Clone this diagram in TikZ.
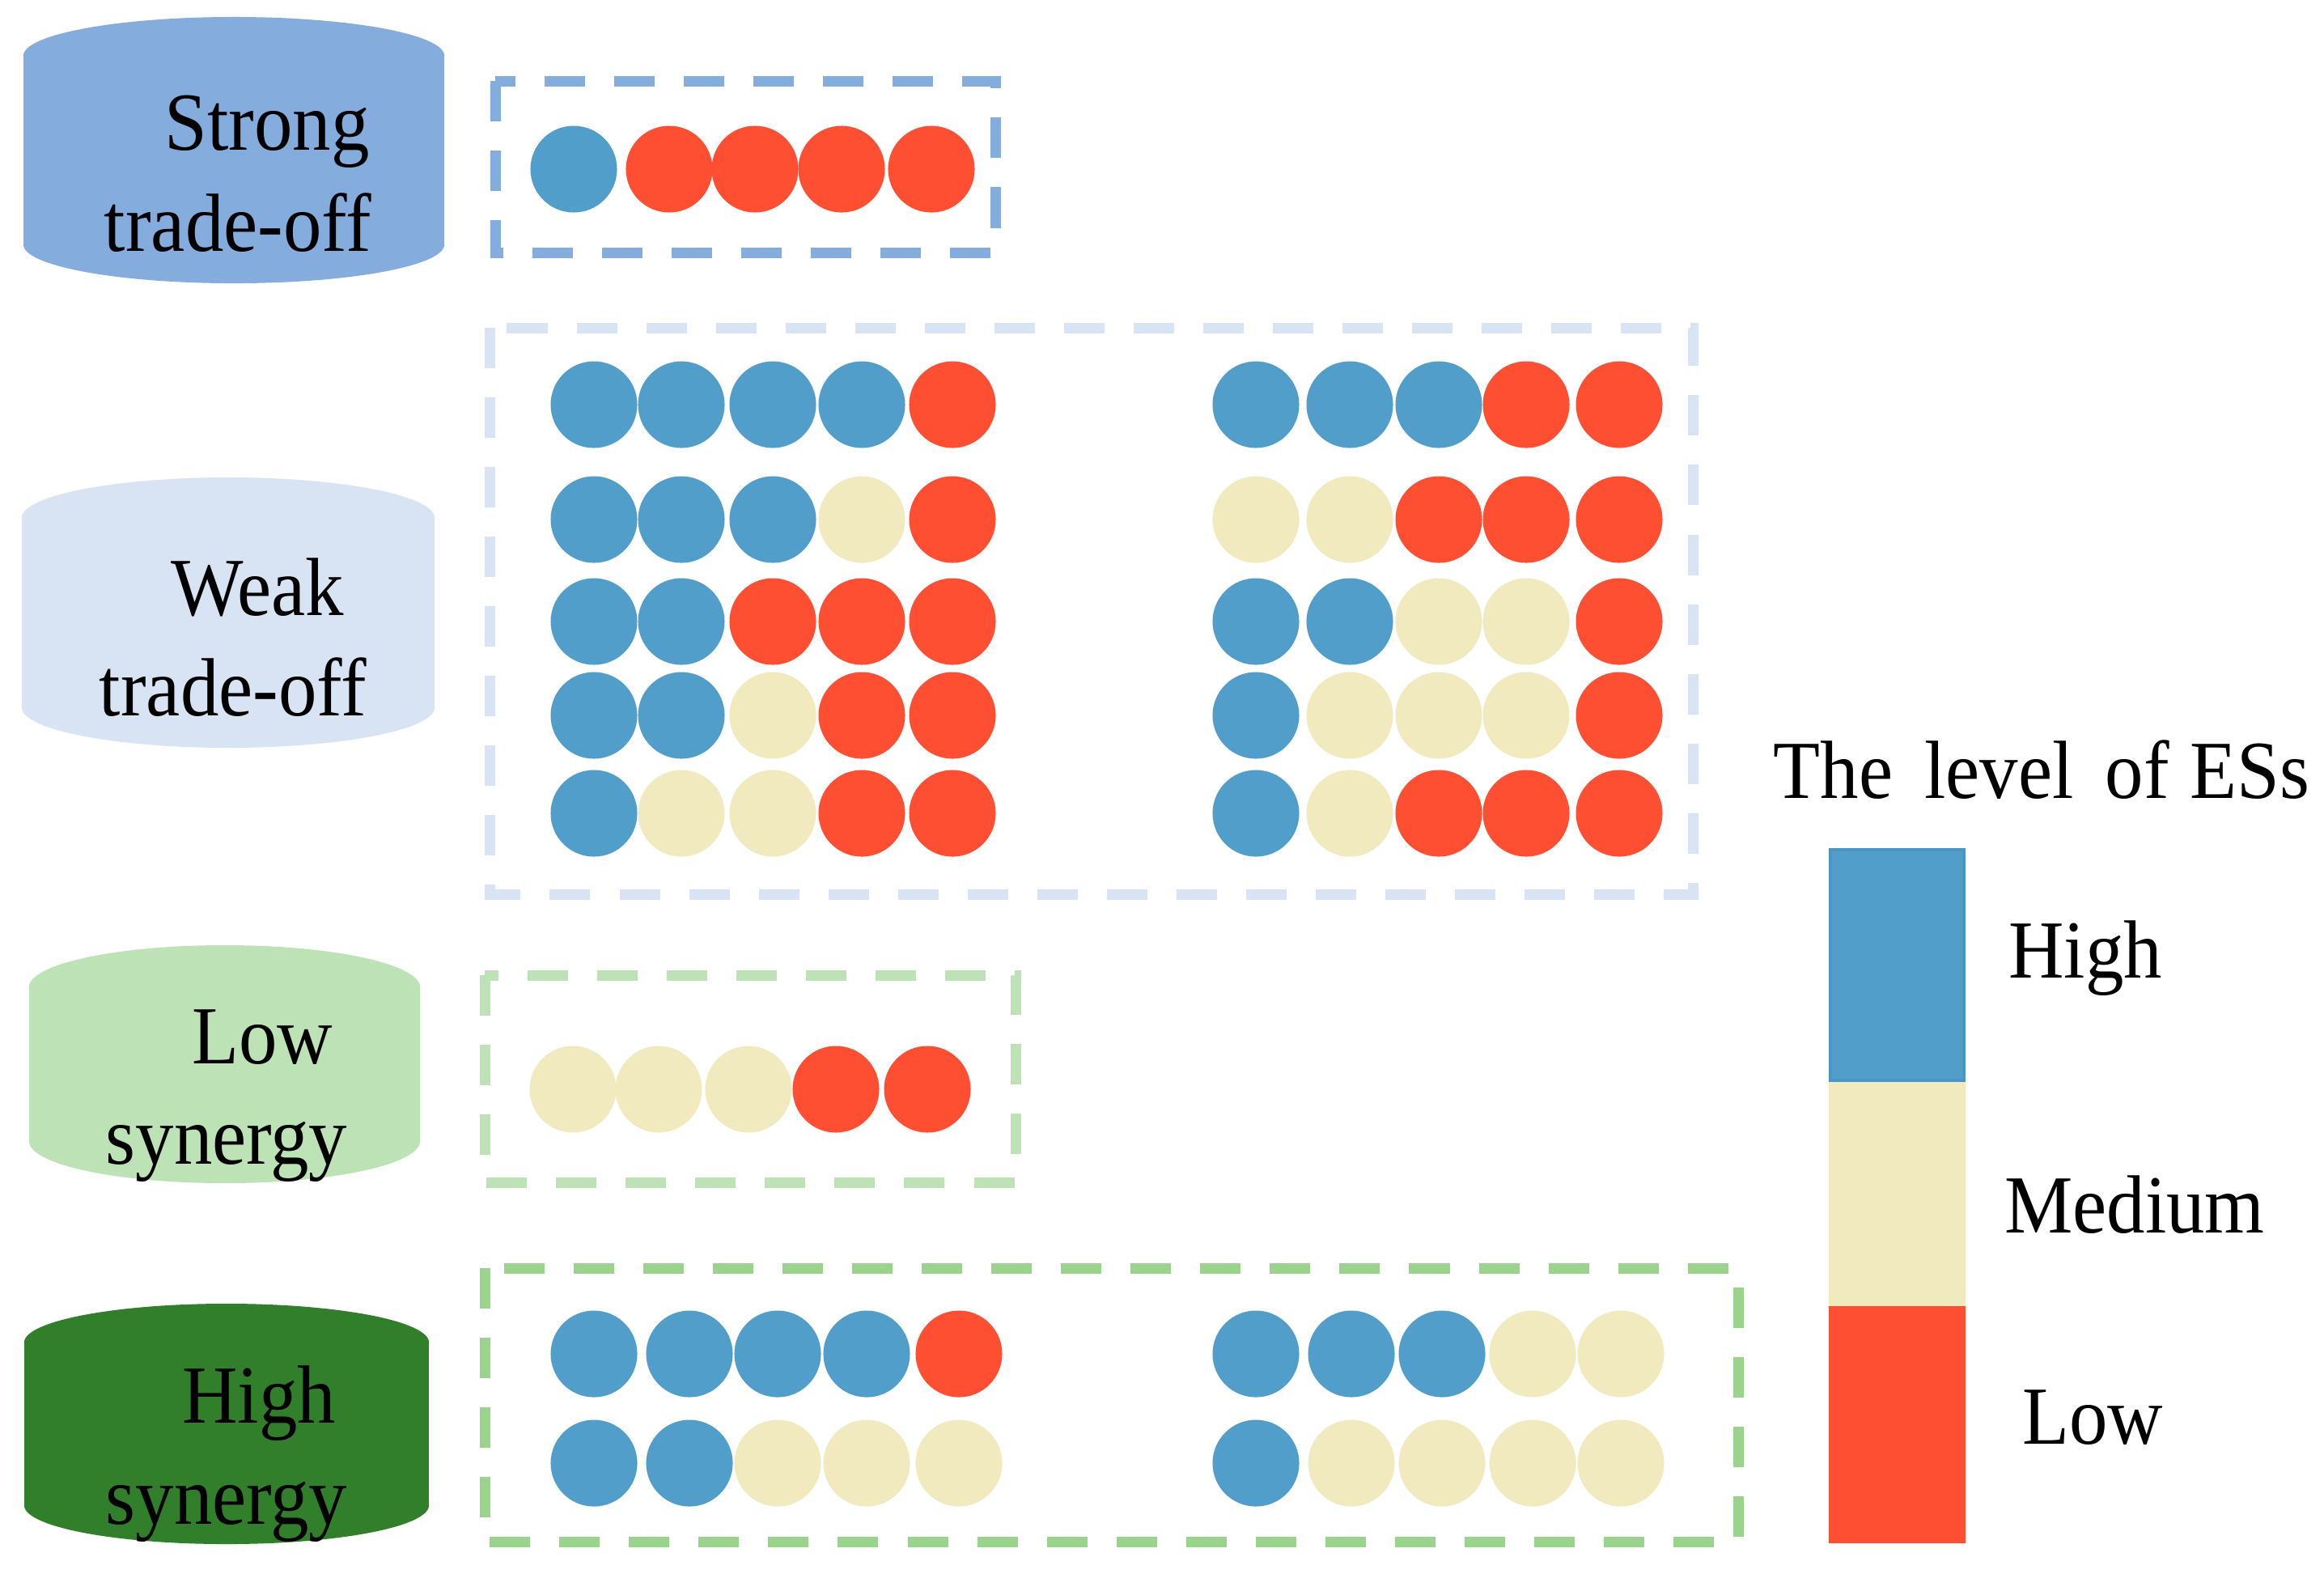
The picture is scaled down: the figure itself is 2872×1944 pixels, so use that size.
\documentclass[tikz,border=0pt]{standalone}
\usepackage{fontspec}
\setmainfont{Liberation Serif}
\definecolor{esH}{HTML}{529ECB}
\definecolor{esHd}{HTML}{4A95C5}
\definecolor{esM}{HTML}{F2EABF}
\definecolor{esL}{HTML}{FF4F33}
\definecolor{cStrong}{HTML}{84ACDD}
\definecolor{cWeak}{HTML}{D8E4F3}
\definecolor{cLow}{HTML}{BCE2B6}
\definecolor{cHigh}{HTML}{317F2A}
\definecolor{bHigh}{HTML}{9AD38B}
\tikzset{
  dot/.style={circle, inner sep=0pt, minimum size=1.07cm, fill=#1},
  lbl/.style={anchor=base, inner sep=0pt, font=\fontsize{29}{35}\selectfont},
  grp/.style={draw=#1, line width=0.13cm, dash pattern=on 0.5cm off 0.36cm},
}
\newcommand\dotrow[3]{\foreach \xx/\cc [count=\ii] in {#3}{\node[dot=\cc] (#1-\ii) at (\xx,#2) {};}}
\newcommand\cyl[6]{% x1 x2 ytop ybot ry color
  \fill[#6] ({(#1+#2)/2},{#3+#5}) ellipse [x radius={(#2-#1)/200*1cm}, y radius={#5/100*1cm}];
  \fill[#6] ({(#1+#2)/2},{#4-#5}) ellipse [x radius={(#2-#1)/200*1cm}, y radius={#5/100*1cm}];
  \fill[#6] (#1,{#3+#5}) rectangle (#2,{#4-#5});
}
\begin{document}
\begin{tikzpicture}[x=0.01cm,y=-0.01cm]
\useasboundingbox (0,0) rectangle (2872,1944);
\fill[white] (0,0) rectangle (2872,1944);

% category cylinders
\cyl{29}{549}{21}{350}{48}{cStrong}
\cyl{27}{537}{590}{924}{50}{cWeak}
\cyl{36}{519}{1168}{1462}{52}{cLow}
\cyl{30}{530}{1611}{1908}{48}{cHigh}

\node[lbl] (t1a) at (330,185) {\scalebox{0.93}[1]{Strong}};
\node[lbl] (t1b) at (294,310) {\scalebox{0.93}[1]{trade-off}};
\node[lbl] (t2a) at (318,760) {\scalebox{0.93}[1]{Weak}};
\node[lbl] (t2b) at (288,884) {\scalebox{0.93}[1]{trade-off}};
\node[lbl] (t3a) at (324,1314) {\scalebox{0.93}[1]{Low}};
\node[lbl] (t3b) at (280,1438) {\scalebox{0.93}[1]{synergy}};
\node[lbl] (t4a) at (320,1758) {\scalebox{0.93}[1]{High}};
\node[lbl] (t4b) at (280,1883) {\scalebox{0.93}[1]{synergy}};

% dashed group boxes
\draw[grp=cStrong] (612,100) rectangle (1230,312);
\draw[grp=cWeak] (605,405) rectangle (2092,1105);
\draw[grp=cLow] (599,1205) rectangle (1255,1461);
\draw[grp=bHigh] (599,1567) rectangle (2148,1905);

% strong trade-off
\dotrow{s}{209}{709/esH,827/esL,933/esL,1040/esL,1151/esL}
% weak trade-off, left block
\dotrow{wa1}{500}{734/esH,842/esH,955/esH,1065/esH,1177/esL}
\dotrow{wa2}{642}{734/esH,842/esH,955/esH,1065/esM,1177/esL}
\dotrow{wa3}{768}{734/esH,842/esH,955/esL,1065/esL,1177/esL}
\dotrow{wa4}{884}{734/esH,842/esH,955/esM,1065/esL,1177/esL}
\dotrow{wa5}{1005}{734/esH,842/esM,955/esM,1065/esL,1177/esL}
% weak trade-off, right block
\dotrow{wb1}{500}{1552/esH,1668/esH,1778/esH,1886/esL,2001/esL}
\dotrow{wb2}{642}{1552/esM,1668/esM,1778/esL,1886/esL,2001/esL}
\dotrow{wb3}{768}{1552/esH,1668/esH,1778/esM,1886/esM,2001/esL}
\dotrow{wb4}{884}{1552/esH,1668/esM,1778/esM,1886/esM,2001/esL}
\dotrow{wb5}{1005}{1552/esH,1668/esM,1778/esL,1886/esL,2001/esL}
% low synergy
\dotrow{l}{1346}{708/esM,814/esM,925/esM,1033/esL,1146/esL}
% high synergy
\dotrow{ha1}{1673}{734/esH,852/esH,961/esH,1071/esH,1185/esL}
\dotrow{ha2}{1808}{734/esH,852/esH,961/esM,1071/esM,1185/esM}
\dotrow{hb1}{1673}{1552/esH,1670/esH,1782/esH,1894/esM,2003/esM}
\dotrow{hb2}{1808}{1552/esH,1670/esM,1782/esM,1894/esM,2003/esM}

% legend
\node[lbl] (ltitle) at (2523,986) {\scalebox{0.93}[1]{The\hspace{0.42cm}level\hspace{0.42cm}of\hspace{0.28cm}ESs}};
\fill[esL] (2260,1614) rectangle (2429,1907);
\fill[esM] (2260,1335) rectangle (2429,1614);
\filldraw[fill=esH, draw=esHd, line width=0.035cm] (2262,1050) rectangle (2427,1335);
\node[lbl] (lh) at (2577,1208) {\scalebox{0.93}[1]{High}};
\node[lbl] (lm) at (2638,1523) {\scalebox{0.93}[1]{Medium}};
\node[lbl] (ll) at (2586,1784) {\scalebox{0.93}[1]{Low}};
\end{tikzpicture}
\end{document}
